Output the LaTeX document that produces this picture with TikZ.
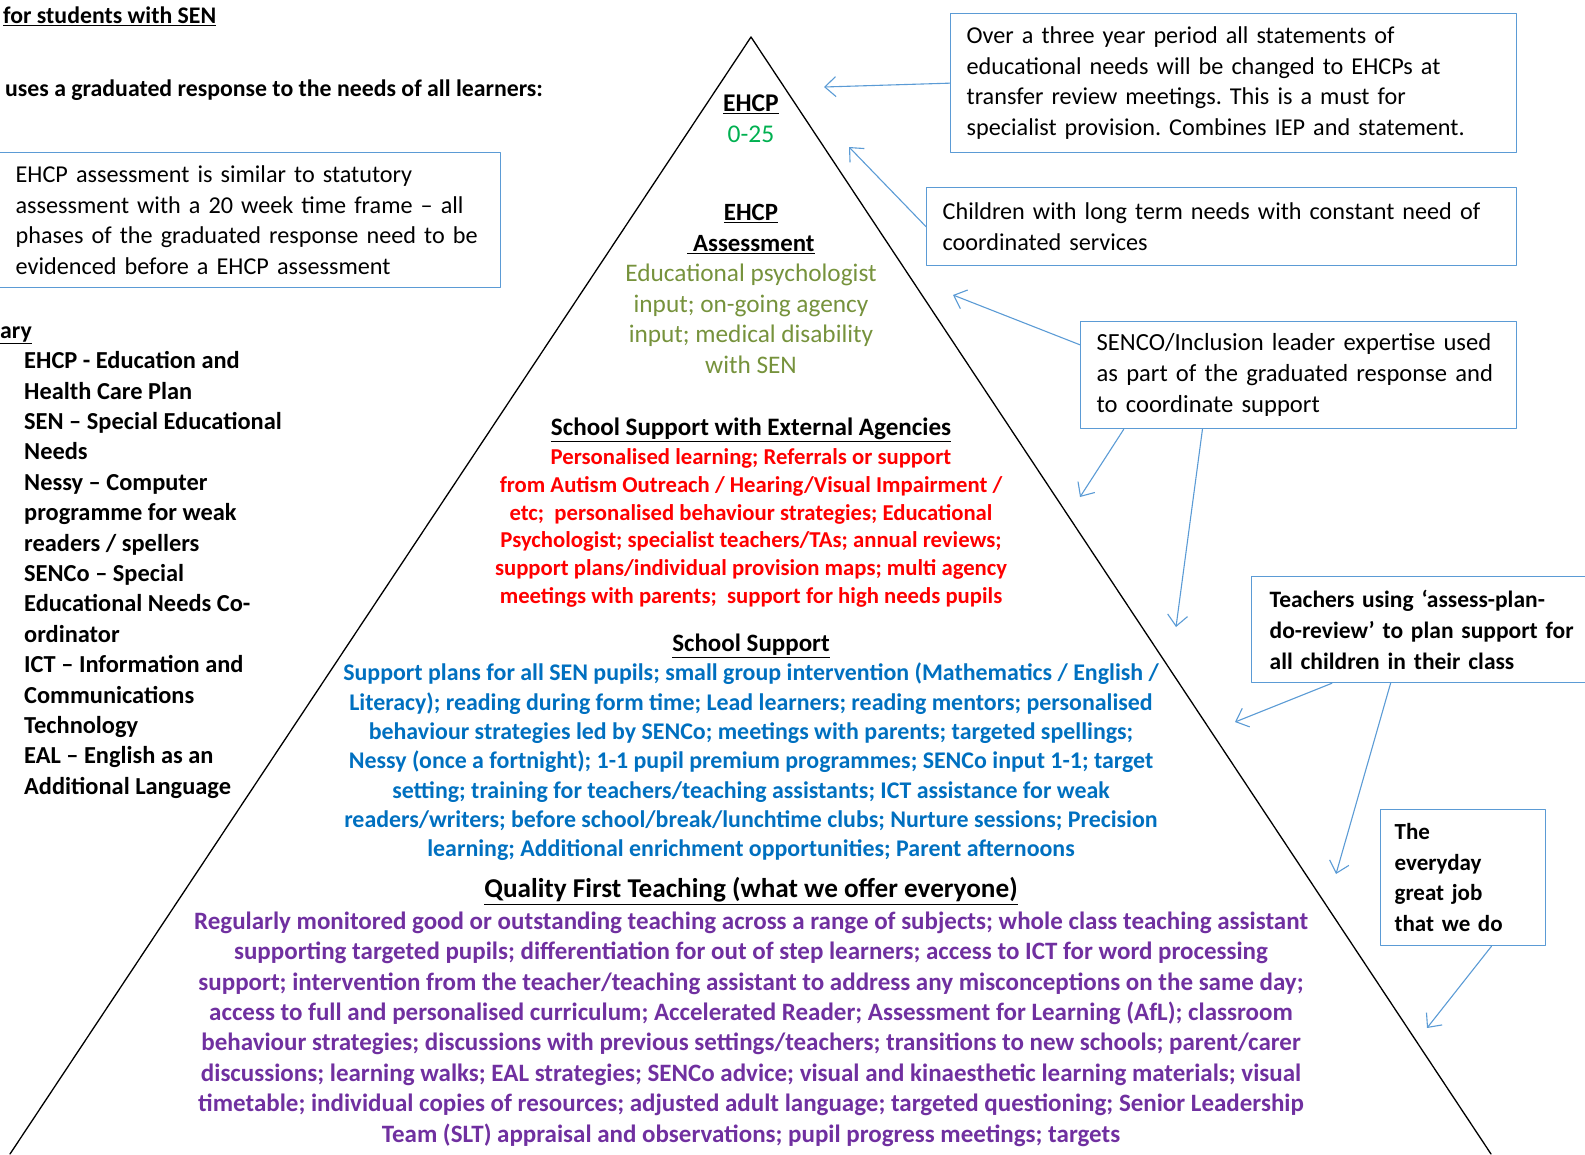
\documentclass[tikz,border=0pt]{standalone}
\usepackage{fontspec}
\setmainfont{Carlito}
\usetikzlibrary{arrows.meta,calc}
\definecolor{boxblue}{RGB}{91,155,213}
\definecolor{agegreen}{RGB}{0,176,80}
\definecolor{olive}{RGB}{118,146,60}
\definecolor{extred}{RGB}{255,0,0}
\definecolor{schblue}{RGB}{0,112,192}
\definecolor{qftpurple}{RGB}{112,48,160}
\newcommand{\ul}[1]{\underline{#1}}
\newcommand{\fs}[2]{\fontsize{#1}{#2}\selectfont}
\frenchspacing

\begin{document}
\begin{tikzpicture}[x=1pt,y=-1pt,line cap=round,line join=round,
  txt/.style={inner sep=0pt,align=center,font=\fs{23}{30.5}},
  lefttxt/.style={inner sep=0pt,anchor=west,align=left,font=\fs{23}{30.5}},
  note/.style={draw=boxblue,line width=1.3pt,anchor=north west,align=left,
    inner xsep=16pt,inner ysep=0pt,font=\fs{24.2}{30.5}},
  callout/.style={draw=boxblue,line width=1.1pt,-{Straight Barb[length=11pt,width=20pt]}}]
\useasboundingbox (0,0) rectangle (1585,1154);

% the pyramid
\coordinate (apex) at (751,37);
\coordinate (baseL) at (10,1154);
\coordinate (baseR) at (1491,1154);
\draw[line width=1.3pt] (baseL) -- (apex) -- (baseR);

% left column
\node[lefttxt,font=\fs{23.8}{30.5}\bfseries] (title) at (3,16) {\ul{for students with SEN}};
\node[lefttxt,font=\fs{23.8}{30.5}\bfseries] (intro) at (5,90) {uses a graduated response to the needs of all learners:};
\node[note,minimum width=501pt,minimum height=135pt,text width=469pt] (assessBox) at (-1,152)
  {EHCP assessment is similar to statutory\\assessment with a 20 week time frame – all\\phases of the graduated response need to be\\evidenced before a EHCP assessment};
\node[lefttxt,font=\fs{23.8}{30.5}\bfseries] (glossTitle) at (0,335) {\ul{ary}};
\node[lefttxt,font=\fs{24.4}{30.4}\bfseries] (gloss) at (24,575)
  {EHCP - Education and\\Health Care Plan\\SEN – Special Educational\\Needs\\Nessy – Computer\\programme for weak\\readers / spellers\\SENCo – Special\\Educational Needs Co-\\ordinator\\ICT – Information and\\Communications\\Technology\\EAL – English as an\\Additional Language};

% levels of the pyramid
\node[txt,font=\fs{25.5}{31}] (ehcp) at (751,119)
  {\textbf{\ul{EHCP}}\\\textcolor{agegreen}{0-25}};
\node[txt,font=\fs{24.8}{30.5}] (assess) at (751,289)
  {\textbf{\ul{EHCP}}\\\textbf{\ul{\ Assessment}}\\\fs{25.3}{30.5}\color{olive}Educational psychologist\\\fs{25.3}{30.5}\color{olive}input; on-going agency\\\fs{25.3}{30.5}\color{olive}input; medical disability\\\fs{25.3}{30.5}\color{olive}with SEN};
\node[txt,font=\fs{25.1}{30.5}\bfseries] (extTitle) at (751,430) {\ul{School Support with External Agencies}};
\node[txt,font=\fs{22.7}{27.8}\bfseries,text=extred] (extText) at (751,528)
  {Personalised learning; Referrals or support\\from Autism Outreach / Hearing/Visual Impairment /\\etc;\ \ personalised behaviour strategies; Educational\\Psychologist; specialist teachers/TAs; annual reviews;\\support plans/individual provision maps; multi agency\\meetings with parents;\ \ support for high needs pupils};
\node[txt,font=\fs{25}{30.5}\bfseries] (schTitle) at (751,646) {\ul{School Support}};
\node[txt,font=\fs{23.9}{29.3}\bfseries,text=schblue] (schText) at (751,762)
  {Support plans for all SEN pupils; small group intervention (Mathematics / English /\\Literacy); reading during form time; Lead learners; reading mentors; personalised\\behaviour strategies led by SENCo; meetings with parents; targeted spellings;\\Nessy (once a fortnight); 1-1 pupil premium programmes; SENCo input 1-1; target\\setting; training for teachers/teaching assistants; ICT assistance for weak\\readers/writers; before school/break/lunchtime clubs; Nurture sessions; Precision\\learning; Additional enrichment opportunities; Parent afternoons};
\node[txt,font=\fs{27.2}{30.5}\bfseries] (qftTitle) at (751,891) {\ul{Quality First Teaching (what we offer everyone)}};
\node[txt,font=\fs{25}{30.4}\bfseries,text=qftpurple] (qftText) at (751,1029)
  {Regularly monitored good or outstanding teaching across a range of subjects; whole class teaching assistant\\supporting targeted pupils; differentiation for out of step learners; access to ICT for word processing\\support; intervention from the teacher/teaching assistant to address any misconceptions on the same day;\\access to full and personalised curriculum; Accelerated Reader; Assessment for Learning (AfL); classroom\\behaviour strategies; discussions with previous settings/teachers; transitions to new schools; parent/carer\\discussions; learning walks; EAL strategies; SENCo advice; visual and kinaesthetic learning materials; visual\\timetable; individual copies of resources; adjusted adult language; targeted questioning; Senior Leadership\\Team (SLT) appraisal and observations; pupil progress meetings; targets};

% notes on the right
\node[note,minimum width=566pt,minimum height=139pt,text width=534pt] (boxA) at (950,13)
  {Over a three year period all statements of\\educational needs will be changed to EHCPs at\\transfer review meetings. This is a must for\\specialist provision. Combines IEP and statement.};
\node[note,minimum width=590pt,minimum height=78pt,text width=558pt] (boxB) at (926,187)
  {Children with long term needs with constant need of\\coordinated services};
\node[note,font=\fs{24.6}{31},minimum width=436pt,minimum height=107pt,text width=404pt] (boxC) at (1080,321)
  {SENCO/Inclusion leader expertise used\\as part of the graduated response and\\to coordinate support};
\node[note,font=\fs{23.5}{31}\bfseries,inner xsep=18pt,minimum width=339pt,minimum height=106pt,text width=330pt] (boxD) at (1251,576)
  {Teachers using ‘assess-plan-\\do-review’ to plan support for\\all children in their class};
\node[note,font=\fs{23}{30.5}\bfseries,inner xsep=14pt,minimum width=165pt,minimum height=136pt,text width=137pt] (boxE) at (1380,809)
  {The\\everyday\\great job\\that we do};

% arrow tips
\coordinate (tipA) at (824,87);
\coordinate (tipB) at (849,147);
\coordinate (tipC1) at (953,295);
\coordinate (tipC2) at (1080,497);
\coordinate (tipC3) at (1176,627);
\coordinate (tipD1) at (1235,722);
\coordinate (tipD2) at (1336,874);
\coordinate (tipE) at (1427,1028);

\draw[callout] (boxA.west) -- (tipA);
\draw[callout] (boxB.west) -- (tipB);
\draw[callout] ($(boxC.north west)!0.22!(boxC.south west)$) -- (tipC1);
\draw[callout] ($(boxC.south west)!0.10!(boxC.south east)$) -- (tipC2);
\draw[callout] ($(boxC.south west)!0.28!(boxC.south east)$) -- (tipC3);
\draw[callout] ($(boxD.south west)!0.22!(boxD.south east)$) -- (tipD1);
\draw[callout] ($(boxD.south west)!0.38!(boxD.south east)$) -- (tipD2);
\draw[callout] ($(boxE.south west)!0.67!(boxE.south east)$) -- (tipE);
\end{tikzpicture}
\end{document}
